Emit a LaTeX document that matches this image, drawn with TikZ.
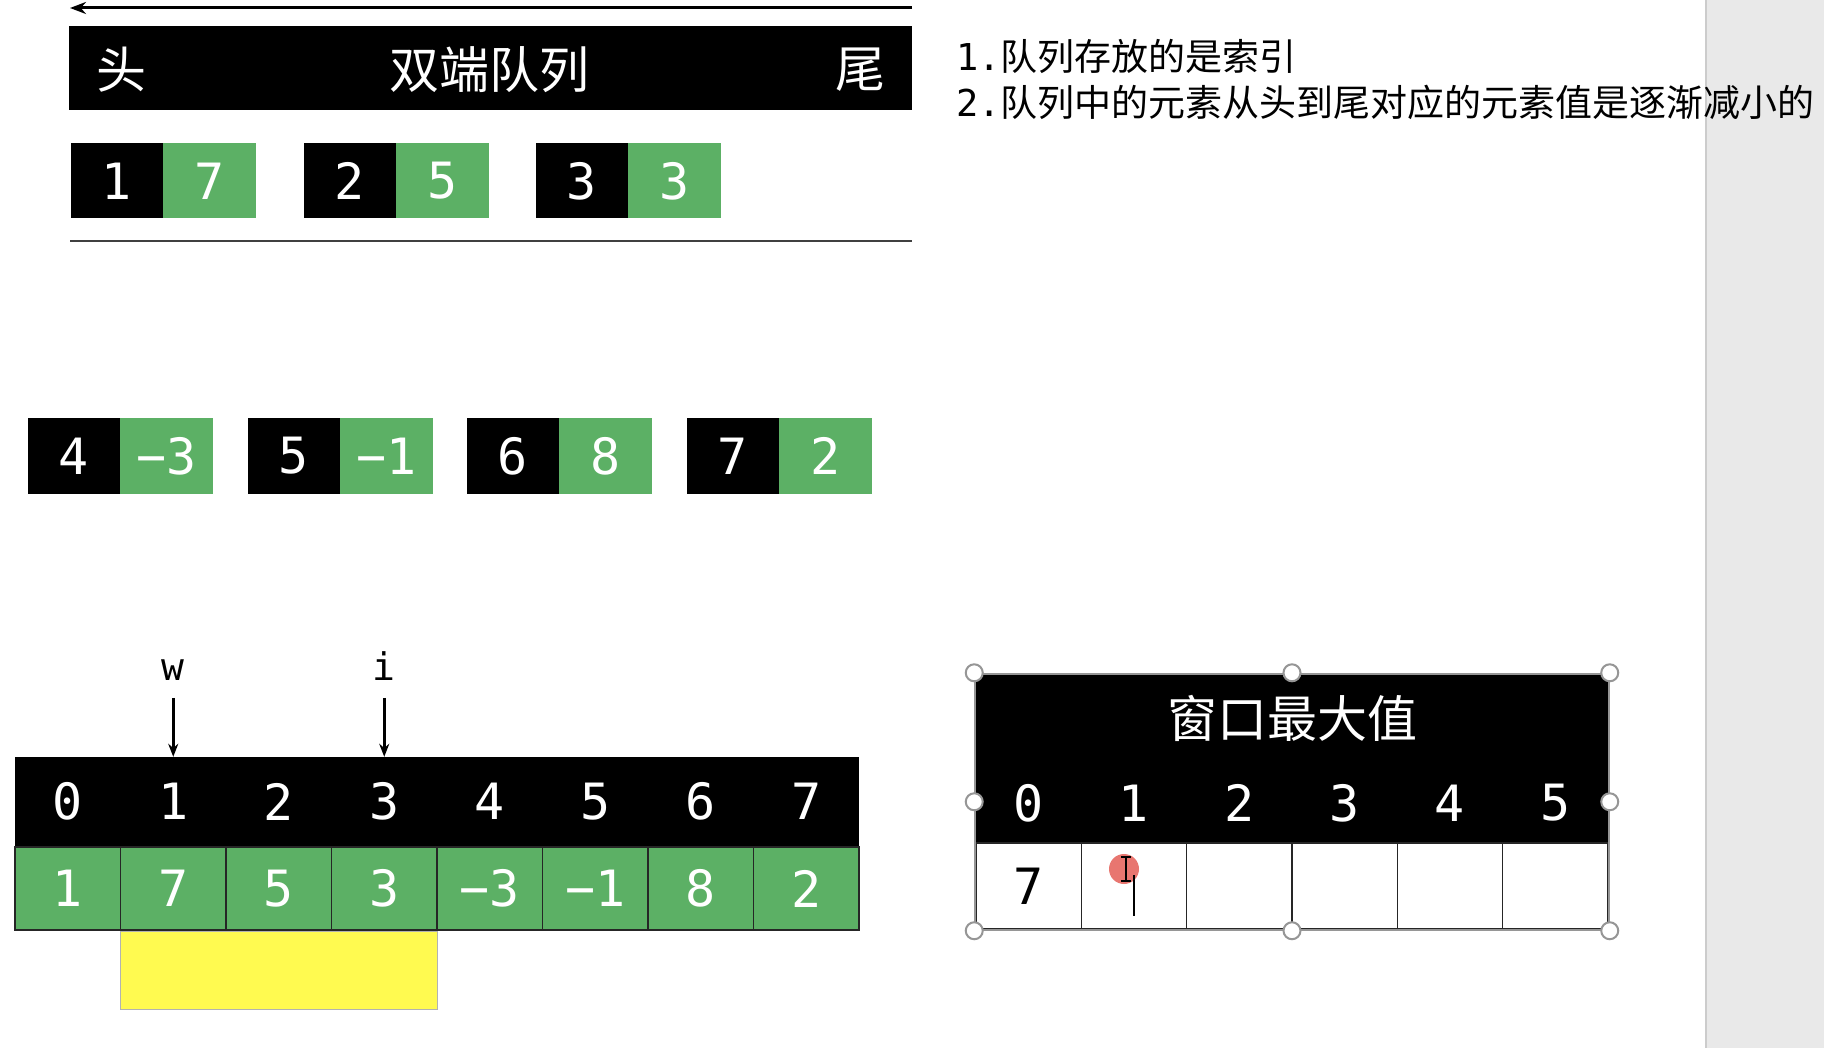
\documentclass[tikz,border=0pt]{standalone}
\usepackage{fontspec}
\setmainfont{Noto Sans CJK SC}
\setmonofont{DejaVu Sans Mono}
\usepackage{tikz}
\usetikzlibrary{
  arrows.meta,
  positioning,
  calc,
  fit
}
\definecolor{cellgreen}{RGB}{92,176,101}
\definecolor{hiyellow}{RGB}{255,250,80}
\definecolor{panelgray}{RGB}{233,233,233}
\definecolor{selgray}{RGB}{150,150,150}
\definecolor{cursorred}{RGB}{232,118,112}
\newcommand{\cellfont}{\ttfamily\fontsize{50}{60}\selectfont}
\newcommand{\titlefont}{\fontsize{50}{60}\selectfont}
\newcommand{\notefont}{\fontsize{37}{44}\selectfont}
\newcommand{\ptrfont}{\ttfamily\fontsize{38}{44}\selectfont}

\begin{document}
\begin{tikzpicture}[
      x=1pt, y=-1pt,
      idxcell/.style={fill=black, text=white, minimum width=92pt, minimum height=75pt, inner sep=0pt, font=\cellfont},
      valcell/.style={fill=cellgreen, text=white, minimum width=93pt, minimum height=75pt, inner sep=0pt, font=\cellfont},
      arrhead/.style={fill=black, text=white, minimum width=105.5pt, minimum height=89pt, inner sep=0pt, font=\cellfont},
      arrcell/.style={fill=cellgreen, draw=black!85, line width=1.5pt, text=white, minimum width=105.5pt, minimum height=83pt, inner sep=0pt, font=\cellfont},
      wincell/.style={fill=white, draw=black!85, line width=1.5pt, minimum width=105.33pt, minimum height=86pt, inner sep=0pt, font=\cellfont},
      windigit/.style={text=white, inner sep=0pt, font=\cellfont},
      bartext/.style={text=white, inner sep=0pt, font=\titlefont},
      note/.style={anchor=west, inner sep=0pt, font=\notefont},
      ptrlabel/.style={anchor=base, inner sep=0pt, font=\ptrfont},
      ptr/.style={-{Stealth[length=13pt,width=10pt]}, line width=2.5pt},
      handle/.style={circle, draw=selgray, fill=white, line width=2pt, minimum size=17pt, inner sep=0pt}
  ]
      \useasboundingbox (0,0) rectangle (1824,1048);
      \fill[white] (0,0) rectangle (1824,1048);

      % Painel lateral
      \fill[panelgray] (1706,0) rectangle (1824,1048);
      \draw[black!20, line width=2pt] (1706,0) -- (1706,1048);

      % Fila dupla
      \coordinate (dqtail) at (912,8);
      \coordinate (dqhead) at (70,8);
      \draw[-{Stealth[length=16pt,width=12pt]}, line width=3pt] (dqtail) -- (dqhead);
      \node[fill=black, minimum width=843pt, minimum height=84pt, inner sep=0pt] (dq) at (490.5,68) {};
      \node[bartext] (dqh) at (121,70) {头};
      \node[bartext] (dqt) at (489,70) {双端队列};
      \node[bartext] (dqe) at (860,70) {尾};

      % Pares na fila
      \foreach \i/\v/\x in {1/7/117, 2/5/350, 3/3/582} {
        \node[idxcell] (q\i) at (\x,181) {\i};
        \node[valcell, right=0pt of q\i] (qv\i) {\v};
      }
      \draw[black!75, line width=2pt] (70,241) -- (912,241);

      % Pares restantes
      \foreach \i/\v/\x in {4/−3/74, 5/−1/294, 6/8/513, 7/2/733} {
        \node[idxcell] (p\i) at (\x,456) {\i};
        \node[valcell, right=0pt of p\i] (pv\i) {\v};
      }

      % Vetor
      \foreach \v [count=\k from 0] in {1,7,5,3,−3,−1,8,2} {
        \node[arrhead] (h\k) at ({15+105.5*(\k+0.5)},801.5) {\k};
        \node[arrcell, below=0pt of h\k] (a\k) {\v};
      }
      \node[fill=hiyellow, draw=black!30, line width=1pt, anchor=north west, minimum width=317pt, minimum height=78pt, inner sep=0pt] (win) at (a1.south west) {};

      % Ponteiros
      \path (h1.north) ++(0,-76) node[ptrlabel] (lw) {w};
      \path (h3.north) ++(0,-76) node[ptrlabel] (li) {i};
      \draw[ptr, shorten <=17pt] (lw.base) -- (h1.north);
      \draw[ptr, shorten <=17pt] (li.base) -- (h3.north);

      % Tabela de maximos
      \node[fill=black, minimum width=632pt, minimum height=169pt, inner sep=0pt] (wt) at (1292,758.5) {};
      \node[bartext] (wtt) at (1292,718) {窗口最大值};
      \foreach \k in {0,...,5} {
        \node[windigit] (wd\k) at ({976+105.33*(\k+0.5)},803) {\k};
        \node[wincell] (wc\k) at ({976+105.33*(\k+0.5)},886) {};
      }
      \node[font=\cellfont, inner sep=0pt] (wv0) at (wc0) {7};

      % Selecao
      \node[fit=(wt)(wc0)(wc5), inner sep=0pt, draw=selgray, line width=2pt] (sel) {};
      \foreach \a in {north west, north, north east, west, east, south west, south, south east}
        \node[handle] at (sel.\a) {};

      % Cursor
      \node[circle, fill=cursorred, minimum size=30pt, inner sep=0pt] (dot) at (1124,869) {};
      \draw[line width=1.5pt] (1126,857) -- (1126,881) (1121,857) -- (1131,857) (1121,881) -- (1131,881);
      \draw[line width=1.5pt] (1134,875) -- (1134,916);

      % Notas
      \node[note] (n1) at (956,56) {{\ttfamily 1.}队列存放的是索引};
      \node[note] (n2) at (956,102) {{\ttfamily 2.}队列中的元素从头到尾对应的元素值是逐渐减小的};
  \end{tikzpicture}
\end{document}
